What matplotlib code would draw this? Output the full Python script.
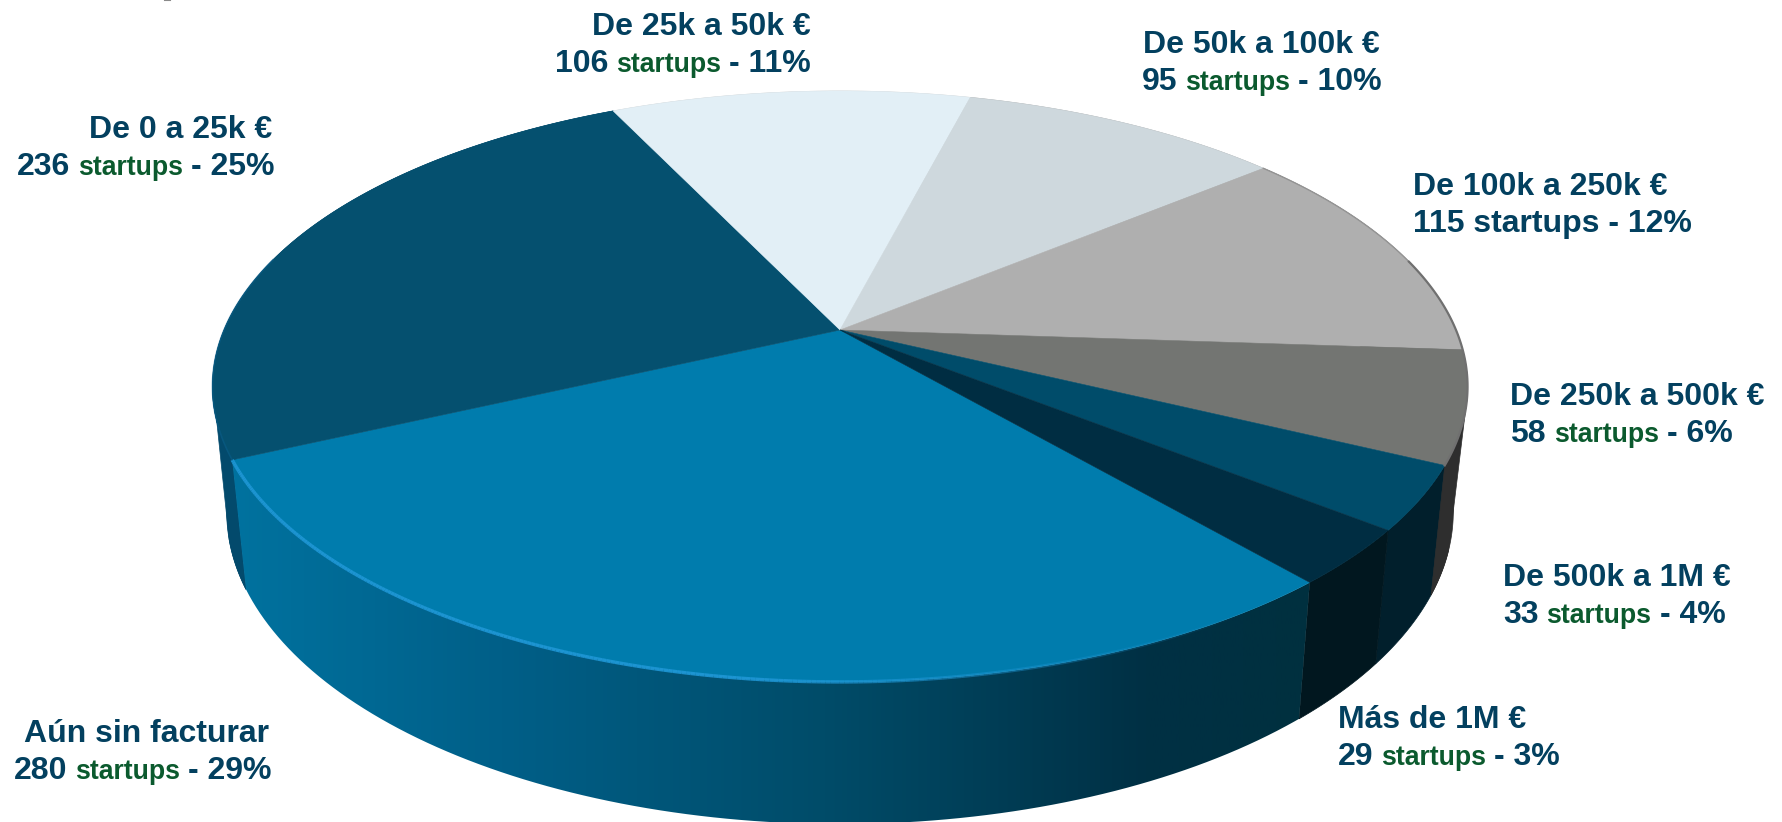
import numpy as np
import matplotlib
matplotlib.use('Agg')
import matplotlib.pyplot as plt
from matplotlib.colors import LinearSegmentedColormap
from matplotlib.collections import LineCollection
from matplotlib.patches import PathPatch
from matplotlib.path import Path

plt.rcParams['font.family'] = ['Liberation Sans', 'DejaVu Sans']

# data, clockwise from the front wedge
categories = ['Aún sin facturar', 'De 0 a 25k €', 'De 25k a 50k €', 'De 50k a 100k €',
              'De 100k a 250k €', 'De 250k a 500k €', 'De 500k a 1M €', 'Más de 1M €']
startups = [280, 236, 106, 95, 115, 58, 33, 29]
percents = [29, 25, 11, 10, 12, 6, 4, 3]

top_colors = ['#007cad', '#05506f', '#e2eff6', '#ced8dd', '#afafaf', '#737572', '#004c6a', '#002d42']
wall_colors = ['#006a96', '#034a6c', '#cccccc', '#aaaaaa', '#555555', '#2e2e2e', '#011f2c', '#01171f']

# left x of line 1, left x of line 2, baseline of line 1
label_pos = [(24, 14, 742), (89, 17, 138), (592, 555, 35), (1143, 1142, 53),
             (1413, 1413, 195), (1510, 1510, 405), (1503, 1503, 586), (1338, 1338, 728)]
DARK = '#03405f'
GREEN = '#0b5a2e'

START = -49.3
CX = 840

fig = plt.figure(figsize=(17.82, 8.22), dpi=100)
ax = fig.add_axes([0, 0, 1, 1])
ax.set_xlim(0, 1782)
ax.set_ylim(822, 0)
ax.axis('off')


# perspective circle: far side squeezed, near side stretched
def top_rim(t):
    u, v = np.cos(t), np.sin(t)
    w = 1 + 0.191 * v
    return CX + 616 * u / w, 330 - 284.7 * v / w


def low_rim(t):
    u, v = np.cos(t), np.sin(t)
    w = 1 + 0.191 * v
    return CX + 602 * u / w, 452 - 301 * v / w


shares = np.array(startups) / sum(startups) * 360
edges = np.radians(START - np.concatenate([[0], np.cumsum(shares)]))

# walls, back ones first so the near ones land on top
order = np.argsort([np.sin((edges[i] + edges[i + 1]) / 2) for i in range(len(shares))])[::-1]
for i in order:
    t = np.linspace(edges[i], edges[i + 1], 200)
    x1, y1 = top_rim(t)
    x2, y2 = low_rim(t)
    xs = np.concatenate([x1, x2[::-1]])
    ys = np.concatenate([y1, y2[::-1]])
    if i == 0:
        grad = LinearSegmentedColormap.from_list('wall', [
            (0, '#00729f'), (0.25, '#005f88'), (0.55, '#004c69'), (0.85, '#003044'), (1, '#00303f')])
        patch = PathPatch(Path(np.column_stack([xs, ys])), fc='none', ec='none')
        ax.add_patch(patch)
        im = ax.imshow(np.linspace(0, 1, 512)[None, :], extent=[xs.min(), xs.max(), 822, 0],
                       aspect='auto', cmap=grad, zorder=2)
        im.set_clip_path(patch)
        ax.set_xlim(0, 1782)
        ax.set_ylim(822, 0)
    else:
        ax.fill(xs, ys, color=wall_colors[i], lw=0.5, zorder=2)

# straight silhouette pieces at the two sides, from the top rim down to the lower rim
t = np.radians(np.linspace(-155.2, -170, 60))
x1, y1 = top_rim(t)
x2, y2 = low_rim(np.radians(np.linspace(-164, -155.2, 30)))
ax.fill(np.r_[x1, x2], np.r_[y1, y2], color=wall_colors[1], lw=0.5, zorder=1.9)
t = np.radians(np.linspace(-13, -25.8, 60))
x1, y1 = top_rim(t)
x2, y2 = low_rim(np.radians(np.linspace(-25.8, -18, 30)))
ax.fill(np.r_[x1, x2], np.r_[y1, y2], color=wall_colors[5], lw=0.5, zorder=2.1)

# top faces
for i in range(len(shares)):
    t = np.linspace(edges[i], edges[i + 1], 200)
    x, y = top_rim(t)
    ax.fill(np.r_[CX, x], np.r_[330, y], color=top_colors[i], lw=0.4, zorder=3)

# rim highlight on the front wedge, fading out to the right
t = np.linspace(edges[0], edges[1], 300)
x, y = top_rim(t)
pts = np.column_stack([x, y])
segs = np.stack([pts[:-1], pts[1:]], axis=1)
fade = np.clip((1250 - x[:-1]) / 500, 0, 1)
rgba = np.zeros((len(segs), 4))
rgba[:, :3] = matplotlib.colors.to_rgb('#1f97d6')
rgba[:, 3] = fade * 0.9
ax.add_collection(LineCollection(segs, colors=rgba, linewidths=2.5, zorder=4))

# thin edges: grey wedges on the right, lighter blue on the left
t = np.linspace(edges[4], edges[4] + np.radians(-25), 100)
x, y = top_rim(t)
ax.plot(x, y, color='#949494', lw=1, zorder=4)
t = np.linspace(edges[4] + np.radians(-25), edges[6], 100)
x, y = top_rim(t)
ax.plot(x, y, color='#707070', lw=1.6, zorder=4)
t = np.radians(np.linspace(-155.2, -195, 100))
x, y = top_rim(t)
ax.plot(x, y, color='#0a5f8c', lw=1.2, alpha=0.5, zorder=4)

# bit of a cropped letter at the very top
ax.plot([165, 170], [0.5, 0.5], color='#8a8a8a', lw=1.5, zorder=5)

# labels
renderer = fig.canvas.get_renderer()
BIG = 23
SMALL = 19.2
for i, name in enumerate(categories):
    x1, x2, base = label_pos[i]
    ax.text(x1, base, name, fontsize=BIG, fontweight='bold', color=DARK, va='baseline', zorder=5)
    # the 100k-250k label has its whole second line in one size and colour
    if i == 4:
        ax.text(x2, base + 37, f'{startups[i]} startups - {percents[i]}%', fontsize=BIG,
                fontweight='bold', color=DARK, va='baseline', zorder=5)
        continue
    x = x2
    parts = [(str(startups[i]), BIG, DARK), ('startups', SMALL, GREEN), (f'- {percents[i]}%', BIG, DARK)]
    for text, size, col in parts:
        tx = ax.text(x, base + 37, text, fontsize=size, fontweight='bold', color=col,
                     va='baseline', zorder=5)
        x += tx.get_window_extent(renderer).width + 8

fig.savefig('out.png', dpi=100, facecolor='white')
